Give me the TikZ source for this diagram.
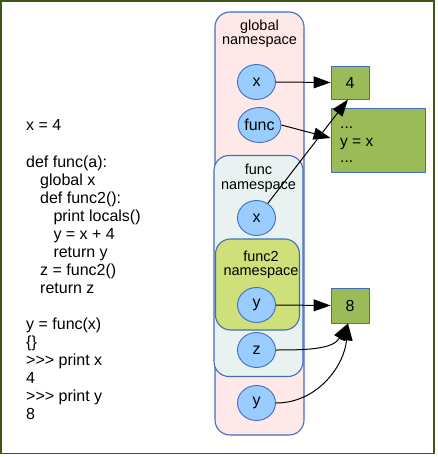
\documentclass[tikz,border=0pt]{standalone}
\usepackage{fontspec}
\setmainfont{Liberation Sans}
\usetikzlibrary{arrows.meta,shapes.geometric}
\definecolor{framec}{RGB}{62,86,22}
\definecolor{bluec}{RGB}{66,110,190}
\definecolor{pinkc}{RGB}{255,232,232}
\definecolor{greyc}{RGB}{233,242,241}
\definecolor{limec}{RGB}{207,223,121}
\definecolor{circc}{RGB}{153,204,255}
\definecolor{boxc}{RGB}{155,187,89}
\begin{document}
\begin{tikzpicture}[x=1pt,y=-1pt,
  nsbox/.style={draw=bluec, line width=1.1pt, rounded corners=15pt, inner sep=0pt},
  var/.style={ellipse, draw=bluec, line width=0.9pt, fill=circc, minimum width=38pt, minimum height=35pt, inner sep=0pt, font=\fontsize{16}{18}\selectfont},
  valbox/.style={draw=bluec, line width=0.9pt, fill=boxc, inner sep=0pt},
  lbl/.style={anchor=base, inner sep=0pt, font=\fontsize{14.5}{16}\selectfont},
  codeline/.style={anchor=base west, inner sep=0pt, font=\fontsize{16}{18}\selectfont},
  arr/.style={draw=black, line width=1pt, -{Triangle[length=17pt,width=12pt]}}]
\useasboundingbox (0,0) rectangle (438,457);
\draw[framec, line width=1.6pt] (0.8,0.8) rectangle (434,453.5);

% namespaces
\node[nsbox, fill=pinkc, minimum width=89pt, minimum height=423pt] (gns) at (259.5,223.5) {};
\node[lbl] (gl1) at (259.5,30.5) {global};
\node[lbl] (gl2) at (259.5,45) {namespace};
\node[nsbox, fill=greyc, minimum width=89pt, minimum height=221pt] (fns) at (258.5,266) {};
\node[lbl] (fl1) at (258.5,175) {func};
\node[lbl] (fl2) at (258.5,189.8) {namespace};
\node[nsbox, fill=limec, minimum width=84pt, minimum height=91pt] (f2ns) at (257.5,284.5) {};
\node[lbl] (f2l1) at (261,261) {func2};
\node[lbl] (f2l2) at (261,275.6) {namespace};

% variables
\node[var] (gx) at (256.5,82) {x};
\node[var] (gfunc) at (259.5,125) {func};
\node[var] (fx) at (256.5,218) {x};
\node[var] (f2y) at (256.5,305) {y};
\node[var] (fz) at (256.5,350) {z};
\node[var] (gy) at (256.5,403) {y};

% values
\node[valbox, minimum width=38pt, minimum height=33pt, font=\fontsize{16}{18}\selectfont] (b4) at (350,82.5) {4};
\node[valbox, minimum width=94pt, minimum height=64pt] (bcode) at (378,140) {};
\node[anchor=west, inner sep=0pt, align=left, font=\fontsize{15.5}{17}\selectfont] (codetxt) at (340,142.6) {\strut...\\\strut y = x\\\strut...};
\node[valbox, minimum width=38pt, minimum height=35pt, font=\fontsize{16}{18}\selectfont] (b8) at (350,305.5) {8};

% arrows
\draw[arr] (gx.east) -- (b4.west);
\draw[arr] (gfunc.east) -- ([yshift=2pt]bcode.west);
\draw[arr] (fx) -- ([xshift=-2pt]b4.south);
\draw[arr] (f2y.east) -- (b8.west);
\draw[arr] (fz.east) to[out=0,in=240] ([xshift=-2pt]b8.south);
\draw[arr] (gy.east) to[out=0,in=265] ([xshift=-2pt]b8.south);

% code
\foreach \t/\xx/\k [count=\i] in {
  {x = 4}/26/0,
  {def func(a):}/26/2,
  {global x}/40/3,
  {def func2():}/40/4,
  {print locals()}/53.3/5,
  {y = x + 4}/53.3/6,
  {return y}/53.3/7,
  {z = func2()}/40/8,
  {return z}/40/9,
  {y = func(x)}/26/11,
  {\{\}}/26/12,
  {>{}>{}> print x}/26/13,
  {4}/26/14,
  {>{}>{}> print y}/26/15,
  {8}/26/16}
  \node[codeline] (code\i) at (\xx,131+18.06*\k) {\t};
\end{tikzpicture}
\end{document}
